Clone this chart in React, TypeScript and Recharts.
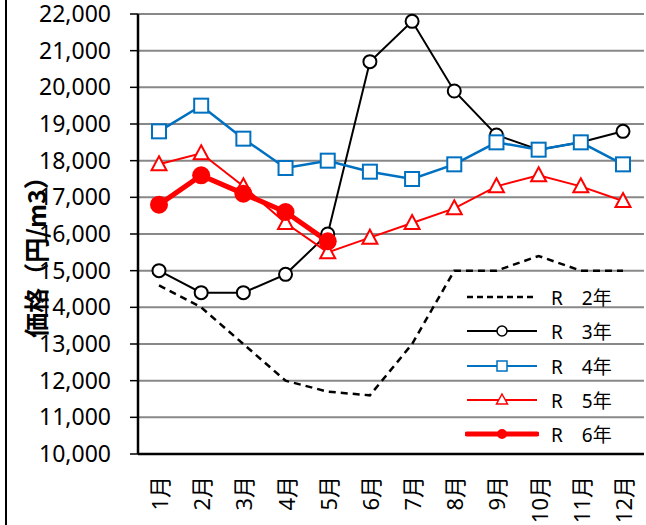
import React from 'react';
import { LineChart, Line, XAxis, YAxis, CartesianGrid, Legend } from 'recharts';

const months = ['1月', '2月', '3月', '4月', '5月', '6月', '7月', '8月', '9月', '10月', '11月', '12月'];
const r2 = [14600, 14000, 13000, 12000, 11700, 11600, 13000, 15000, 15000, 15400, 15000, 15000];
const r3 = [15000, 14400, 14400, 14900, 16000, 20700, 21800, 19900, 18700, 18300, 18500, 18800];
const r4 = [18800, 19500, 18600, 17800, 18000, 17700, 17500, 17900, 18500, 18300, 18500, 17900];
const r5 = [17900, 18200, 17300, 16300, 15500, 15900, 16300, 16700, 17300, 17600, 17300, 16900];
const r6 = [16800, 17600, 17100, 16600, 15800];
const yTicks = [10000, 11000, 12000, 13000, 14000, 15000, 16000, 17000, 18000, 19000, 20000, 21000, 22000];
const boundaryTicks = [0, 6, 12];

const data = months.map((m, i) => ({
  month: m,
  idx: i + 0.5,
  r2: r2[i],
  r3: r3[i],
  r4: r4[i],
  r5: r5[i],
  r6: i < r6.length ? r6[i] : null,
}));

const FONT = '"Noto Sans", "Noto Sans CJK JP", sans-serif';
const BLUE = '#0070C0';
const RED = '#FF0000';

const SquareDot = (props: any) => {
  const { cx, cy } = props;
  if (cx == null || cy == null) return null;
  return <rect x={cx - 7} y={cy - 7} width={14} height={14} fill="#fff" stroke={BLUE} strokeWidth={2} />;
};

const TriangleDot = (props: any) => {
  const { cx, cy } = props;
  if (cx == null || cy == null) return null;
  return (
    <polygon
      points={`${cx},${cy - 8} ${cx + 7.5},${cy + 6} ${cx - 7.5},${cy + 6}`}
      fill="#fff"
      stroke={RED}
      strokeWidth={2}
    />
  );
};

// month labels turned a quarter turn, read from bottom to top
const MonthTick = (props: any) => {
  const { x, y, payload } = props;
  const ty = y + 14;
  return (
    <text
      x={x}
      y={ty}
      transform={`rotate(-90, ${x}, ${ty})`}
      textAnchor="end"
      dominantBaseline="central"
      fontSize={22}
      fontFamily={FONT}
      fill="#000"
    >
      {payload.value}
    </text>
  );
};

const legendIcons: Record<string, React.ReactNode> = {
  r2: <line x1={0} y1={10} x2={70} y2={10} stroke="#000" strokeWidth={2.5} strokeDasharray="6 4" />,
  r3: (
    <g>
      <line x1={0} y1={10} x2={70} y2={10} stroke="#000" strokeWidth={2} />
      <circle cx={35} cy={10} r={5} fill="#fff" stroke="#000" strokeWidth={1.5} />
    </g>
  ),
  r4: (
    <g>
      <line x1={0} y1={10} x2={70} y2={10} stroke={BLUE} strokeWidth={2} />
      <rect x={30} y={5} width={10} height={10} fill="#fff" stroke={BLUE} strokeWidth={1.5} />
    </g>
  ),
  r5: (
    <g>
      <line x1={0} y1={10} x2={70} y2={10} stroke={RED} strokeWidth={2} />
      <polygon points="35,4 40.5,14 29.5,14" fill="#fff" stroke={RED} strokeWidth={1.5} />
    </g>
  ),
  r6: (
    <g>
      <line x1={0} y1={10} x2={70} y2={10} stroke={RED} strokeWidth={5} strokeLinecap="round" />
      <circle cx={35} cy={10} r={5} fill={RED} />
    </g>
  ),
};

const LegendContent = (props: any) => {
  const { payload = [] } = props;
  return (
    <div>
      {payload.map((p: any) => (
        <div key={p.dataKey} style={{ display: 'flex', alignItems: 'center', height: 34.3 }}>
          <svg width={74} height={20} style={{ marginRight: 12 }}>
            <g transform="translate(2,0)">{legendIcons[p.dataKey]}</g>
          </svg>
          <span style={{ fontFamily: FONT, fontSize: 19, color: '#000', whiteSpace: 'pre' }}>{p.value}</span>
        </div>
      ))}
    </div>
  );
};

export default function App() {
  return (
    <div style={{ position: 'fixed', left: 0, top: 0, width: 646, height: 525, background: '#fff' }}>
      <div style={{ position: 'absolute', left: 5, top: 0, width: 2, height: 525, background: '#000' }} />
      <div
        style={{
          position: 'absolute',
          left: 35,
          top: 251,
          transform: 'translate(-50%, -50%) rotate(-90deg)',
          fontFamily: '"Noto Sans CJK JP", sans-serif',
          fontWeight: 'bold',
          fontSize: 25,
          whiteSpace: 'nowrap',
          zIndex: 2,
        }}
      >
        価格（円/m3）
      </div>
      <LineChart width={646} height={525} data={data} margin={{ top: 14, right: 2, bottom: 0, left: 0 }}>
        <CartesianGrid vertical={false} stroke="#888" strokeWidth={2} />
        <XAxis
          xAxisId="b"
          dataKey="idx"
          type="number"
          domain={[0, 12]}
          ticks={boundaryTicks}
          height={0}
          tickSize={6}
          tickLine={{ stroke: '#000', strokeWidth: 1.5 }}
          tick={() => <g />}
          axisLine={false}
          allowDataOverflow
        />
        <XAxis
          dataKey="month"
          height={71}
          padding={{ left: 21, right: 21 }}
          tickLine={false}
          axisLine={{ stroke: '#000', strokeWidth: 2.5 }}
          tick={MonthTick}
          interval={0}
        />
        <XAxis
          xAxisId="top"
          orientation="top"
          dataKey="month"
          height={0}
          tick={false}
          tickLine={false}
          axisLine={{ stroke: '#000', strokeWidth: 2.5 }}
        />
        <YAxis
          domain={[10000, 22000]}
          ticks={yTicks}
          width={138}
          tickSize={8}
          tickMargin={19}
          tickLine={{ stroke: '#000', strokeWidth: 1.5 }}
          axisLine={{ stroke: '#000', strokeWidth: 2.5 }}
          tick={{ fontSize: 23, fontFamily: FONT, fill: '#000' }}
          tickFormatter={(v: number) => v.toLocaleString('en-US')}
          interval={0}
        />
        <YAxis
          yAxisId="right"
          orientation="right"
          width={0}
          tick={false}
          tickLine={false}
          axisLine={{ stroke: '#000', strokeWidth: 2.5 }}
        />
        <Legend
          layout="vertical"
          align="center"
          verticalAlign="middle"
          content={LegendContent}
          wrapperStyle={{ left: 465, top: 280, width: 180 }}
        />
        <Line
          dataKey="r2"
          name="R　2年"
          stroke="#000"
          strokeWidth={2.5}
          strokeDasharray="7 5"
          dot={false}
          isAnimationActive={false}
        />
        <Line
          dataKey="r3"
          name="R　3年"
          stroke="#000"
          strokeWidth={2}
          dot={{ r: 6.5, fill: '#fff', stroke: '#000', strokeWidth: 2 }}
          isAnimationActive={false}
        />
        <Line
          dataKey="r4"
          name="R　4年"
          stroke={BLUE}
          strokeWidth={2.5}
          dot={SquareDot}
          isAnimationActive={false}
        />
        <Line
          dataKey="r5"
          name="R　5年"
          stroke={RED}
          strokeWidth={2}
          dot={TriangleDot}
          isAnimationActive={false}
        />
        <Line
          dataKey="r6"
          name="R　6年"
          stroke={RED}
          strokeWidth={5}
          dot={{ r: 9, fill: RED, stroke: RED, strokeWidth: 0 }}
          isAnimationActive={false}
        />
      </LineChart>
    </div>
  );
}
